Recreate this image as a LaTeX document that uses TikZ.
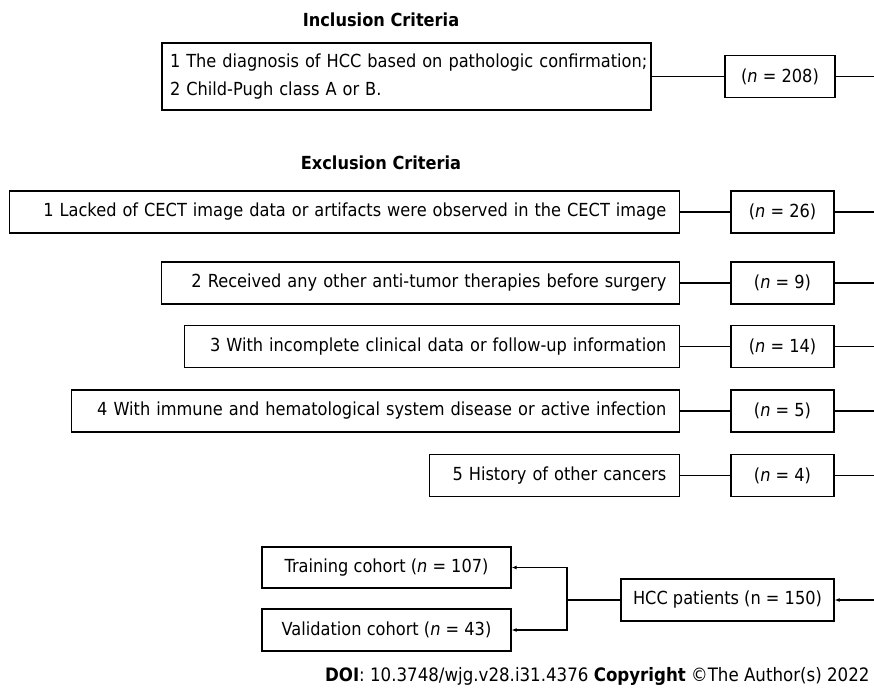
\documentclass[tikz,border=0pt]{standalone}
\usepackage{fontspec}
\setmainfont{DejaVu Sans}[FakeStretch=0.9]
\usetikzlibrary{arrows.meta,positioning}
\tikzset{
  cbox/.style={draw,line width=1.3pt,inner xsep=13pt,inner ysep=0pt,minimum height=42pt},
  nbox/.style={cbox,minimum width=103pt,inner xsep=4pt},
  hd/.style={font=\fontsize{18}{22}\selectfont\bfseries},
  link/.style={line width=1.3pt},
  arr/.style={line width=1.3pt,-{Latex[length=5pt,width=4pt]}}
}

\begin{document}
\begin{tikzpicture}[x=1pt,y=-1pt,font=\fontsize{18}{28}\selectfont]
  \useasboundingbox (0,0) rectangle (874,688);
  \coordinate (rim) at (874,0);
  \node[hd] (inchd) at (381,20) {Inclusion Criteria};
  \node[cbox,inner xsep=3pt,text width=483pt,align=left,minimum height=67pt] (incl) at (406.5,76.5)
    {\hspace*{5pt}1 The diagnosis of HCC based on pathologic confirmation;\\\hspace*{5pt}2 Child-Pugh class A or B.};
  \node[nbox,minimum width=110pt] (n0) at (780,76.5) {(\textit{n} = 208)};
  \draw[link] (incl) -- (n0);
  \draw[link] (n0) -- (n0 -| rim);
  \node[hd] (exhd) at (381,163) {Exclusion Criteria};
  \foreach \i/\yy/\ww/\txt/\cnt in {
      1/212/670/{1 Lacked of CECT image data or artifacts were observed in the CECT image}/26,
      2/283/518/{2 Received any other anti-tumor therapies before surgery}/9,
      3/346.5/495/{3 With incomplete clinical data or follow-up information}/14,
      4/411/608/{4 With immune and hematological system disease or active infection}/5,
      5/475.5/250/{5 History of other cancers}/4}{
    \pgfmathsetmacro\tw{\ww-26}
    \node[cbox,anchor=east,text width=\tw pt,align=right] (ex\i) at (680,\yy) {\txt};
    \node[nbox] (n\i) at (782.5,\yy) {(\textit{n} = \cnt)};
    \draw[link] (ex\i) -- (n\i);
    \draw[link] (n\i) -- (n\i -| rim);
  }
  \node[cbox,minimum width=213pt,inner xsep=6pt,minimum height=42pt] (hcc) at (727.5,600) {HCC patients (n = 150)};
  \node[cbox,minimum width=249pt,inner xsep=6pt,minimum height=41pt] (train) at (386.5,567.5) {Training cohort (\textit{n} = 107)};
  \node[cbox,minimum width=249pt,inner xsep=6pt,minimum height=42pt] (valid) at (386.5,630) {Validation cohort (\textit{n} = 43)};
  \coordinate (split) at (567,600);
  \draw[arr] (hcc.east -| rim) -- (hcc);
  \draw[link] (hcc) -- (split);
  \draw[arr] (split) |- (train);
  \draw[arr] (split) |- (valid);
  \node[anchor=east,font=\fontsize{18.5}{22}\selectfont] (doi) at (873,676)
    {\textbf{DOI}: 10.3748/wjg.v28.i31.4376 \textbf{Copyright} ©The Author(s) 2022};
\end{tikzpicture}
\end{document}
